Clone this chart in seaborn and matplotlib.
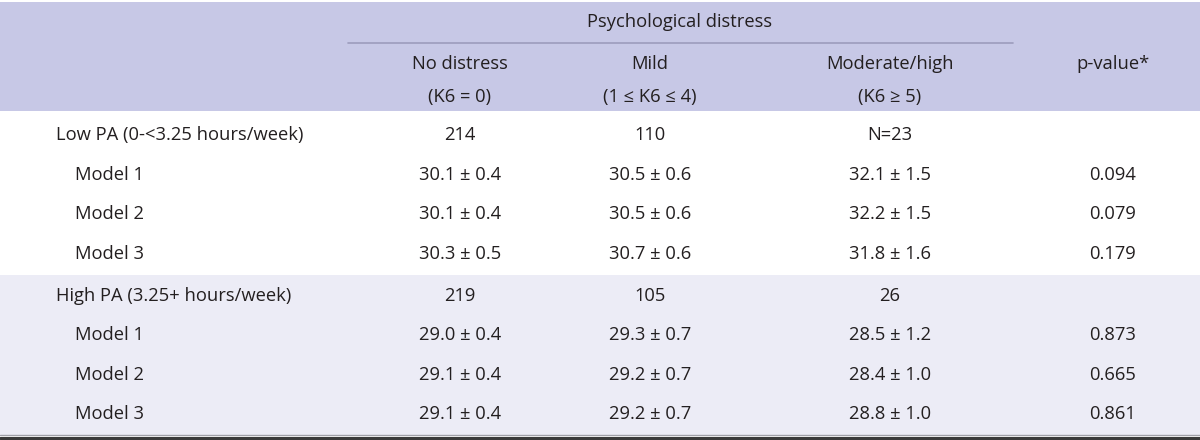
import matplotlib
matplotlib.use("Agg")
import matplotlib.pyplot as plt
import seaborn as sns

sns.set_theme(style="white")
plt.rcParams['font.family'] = ['Open Sans', 'DejaVu Sans']

# ---- data ----
group_header = "Psychological distress"
col_names = ["No distress", "Mild", "Moderate/high"]
col_ranges = ["(K6 = 0)", "(1 ≤ K6 ≤ 4)", "(K6 ≥ 5)"]
pval_header = "p-value*"

groups = ["Low PA (0-<3.25 hours/week)", "High PA (3.25+ hours/week)"]
group_n = [["214", "110", "N=23"], ["219", "105", "26"]]
models = ["Model 1", "Model 2", "Model 3"]

low_means = [[30.1, 30.5, 32.1], [30.1, 30.5, 32.2], [30.3, 30.7, 31.8]]
low_se = [[0.4, 0.6, 1.5], [0.4, 0.6, 1.5], [0.5, 0.6, 1.6]]
low_p = ["0.094", "0.079", "0.179"]

high_means = [[29.0, 29.3, 28.5], [29.1, 29.2, 28.4], [29.1, 29.2, 28.8]]
high_se = [[0.4, 0.7, 1.2], [0.4, 0.7, 1.0], [0.4, 0.7, 1.0]]
high_p = ["0.873", "0.665", "0.861"]

means = [low_means, high_means]
ses = [low_se, high_se]
pvals = [low_p, high_p]

# ---- layout ----
fig = plt.figure(figsize=(12, 4.4), dpi=100)
ax = fig.add_axes([0, 0, 1, 1])
ax.set_xlim(0, 1200)
ax.set_ylim(440, 0)
ax.axis("off")

HEAD_BG = "#c7c8e6"
BAND_BG = "#ececf6"
TXT = "#231f20"
FS = 13.2

ax.axhspan(2, 111, color=HEAD_BG, lw=0)
ax.axhspan(275, 436, color=BAND_BG, lw=0)
ax.plot([348, 1013], [43, 43], color="#9c9cbc", lw=1.2)
ax.plot([0, 1200], [435.5, 435.5], color="#a0a0a8", lw=1.0)
ax.plot([0, 1200], [438.5, 438.5], color="#3a3a3a", lw=2.2)

col_x = [460, 650, 890]
p_x = 1113

ax.text(680, 22, group_header, ha="center", va="center", fontsize=FS, color=TXT)
for x, n, r in zip(col_x, col_names, col_ranges):
    ax.text(x, 64, n, ha="center", va="center", fontsize=FS, color=TXT)
    ax.text(x, 97, r, ha="center", va="center", fontsize=FS, color=TXT)
ax.text(p_x, 64, pval_header, ha="center", va="center", fontsize=FS, color=TXT)

group_y = [135, 296]
row_step = [39.7, 39.3]
for g in range(2):
    y0 = group_y[g]
    ax.text(56, y0, groups[g], ha="left", va="center", fontsize=FS, color=TXT)
    for x, n in zip(col_x, group_n[g]):
        ax.text(x, y0, n, ha="center", va="center", fontsize=FS, color=TXT)
    for i, m in enumerate(models):
        y = y0 + row_step[g] * (i + 1)
        ax.text(75, y, m, ha="left", va="center", fontsize=FS, color=TXT)
        for j, x in enumerate(col_x):
            ax.text(x, y, f"{means[g][i][j]:.1f} ± {ses[g][i][j]:.1f}",
                    ha="center", va="center", fontsize=FS, color=TXT)
        ax.text(p_x, y, pvals[g][i], ha="center", va="center", fontsize=FS, color=TXT)

fig.savefig("out.png", dpi=100, facecolor="white")
